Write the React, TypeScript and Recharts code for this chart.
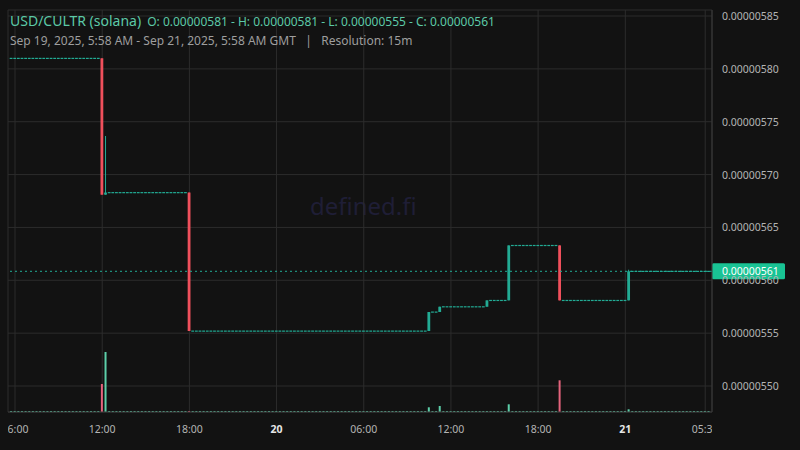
import React from 'react';
import { ComposedChart, Bar, XAxis, YAxis, CartesianGrid, ReferenceLine } from 'recharts';

// times are minutes from Sep 19, 2025 00:00 GMT, 15m candles
const firstCandle = 345; // Sep 19 05:45
const lastCandle = 3225; // Sep 21 05:45
const step = 15;
const startPrice = 0.00000581;

// candles where the price moved, every other candle is flat at the previous close
const moveTimes = [720, 735, 1080, 2070, 2115, 2310, 2400, 2610, 2895];
const moveOpen = [0.00000581, 0.000005681, 0.000005683, 0.000005552, 0.00000557, 0.000005575, 0.000005581, 0.000005633, 0.000005581];
const moveHigh = [0.00000581, 0.0000057365, 0.000005683, 0.00000557, 0.000005575, 0.000005581, 0.000005633, 0.000005633, 0.00000561];
const moveLow = [0.000005681, 0.000005681, 0.000005552, 0.000005552, 0.00000557, 0.000005575, 0.000005581, 0.000005581, 0.000005581];
const moveClose = [0.000005681, 0.000005683, 0.000005552, 0.00000557, 0.000005575, 0.000005581, 0.000005633, 0.000005581, 0.0000056085];

const volumeTimes = [720, 735, 2070, 2115, 2400, 2610, 2895];
const volumeValues = [280, 600, 47, 60, 77, 317, 27];

const priceTicks = [0.0000055, 0.00000555, 0.0000056, 0.00000565, 0.0000057, 0.00000575, 0.0000058, 0.00000585];
const timeTicks = [360, 720, 1080, 1440, 1800, 2160, 2520, 2880, 3210];
const timeLabels = ['06:00', '12:00', '18:00', '20', '06:00', '12:00', '18:00', '21', '05:30'];
const lastPrice = 0.0000056085;

const UP = '#22ab94';
const DOWN = '#f0505c';
const VOL_UP = '#5ccfa9';
const VOL_DOWN = '#e4637c';
const FONT = '"Noto Sans", "Open Sans", sans-serif';

const PLOT_LEFT = 8;
const PLOT_RIGHT = 712;

const data: any[] = [];
let prev = startPrice;
for (let t = firstCandle; t <= lastCandle; t += step) {
  const i = moveTimes.indexOf(t);
  const o = i >= 0 ? moveOpen[i] : prev;
  const h = i >= 0 ? moveHigh[i] : prev;
  const l = i >= 0 ? moveLow[i] : prev;
  const c = i >= 0 ? moveClose[i] : prev;
  prev = c;
  const vi = volumeTimes.indexOf(t);
  data.push({ t, o, h, l, c, range: [l, h], vol: vi >= 0 ? volumeValues[vi] : 0 });
}

const Candle = (props: any) => {
  const { x, y, width, height, payload } = props;
  const cx = x + width / 2;
  const color = payload.c >= payload.o ? UP : DOWN;
  const top = Math.min(y, y + height);
  const h = Math.abs(height);
  const span = payload.h - payload.l;
  if (!span || !h) {
    return <rect x={cx - 1.4} y={top - 0.5} width={2.8} height={1.2} fill={color} />;
  }
  const k = h / span;
  const bodyTop = top + (payload.h - Math.max(payload.o, payload.c)) * k;
  const bodyBot = top + (payload.h - Math.min(payload.o, payload.c)) * k;
  return (
    <g>
      <rect x={cx - 0.5} y={top} width={1} height={h} fill={color} />
      <rect x={cx - 1.4} y={bodyTop} width={2.8} height={Math.max(1.2, bodyBot - bodyTop)} fill={color} />
    </g>
  );
};

const VolumeBar = (props: any) => {
  const { x, y, width, height, payload } = props;
  const cx = x + width / 2;
  const color = payload.c >= payload.o ? VOL_UP : VOL_DOWN;
  const h = Math.max(1, Math.abs(height));
  const bottom = Math.max(y, y + height);
  return <rect x={cx - 1} y={bottom - h} width={2} height={h} fill={color} />;
};

const TimeTick = (props: any) => {
  const { x, y, payload } = props;
  const idx = timeTicks.indexOf(payload.value);
  const label = timeLabels[idx];
  const bold = label.length === 2;
  const id = `tclip${idx}`;
  return (
    <g>
      <defs>
        <clipPath id={id}>
          <rect x={PLOT_LEFT} y={y - 5} width={PLOT_RIGHT - PLOT_LEFT} height={30} />
        </clipPath>
      </defs>
      <text
        x={x}
        y={y + 13}
        textAnchor="middle"
        clipPath={`url(#${id})`}
        fill={bold ? '#e6e6e6' : '#b4b4b4'}
        fontWeight={bold ? 700 : 400}
        fontSize={10.5}
        fontFamily={FONT}
      >
        {label}
      </text>
    </g>
  );
};

const PriceTick = (props: any) => {
  const { x, y, payload } = props;
  return (
    <text x={x} y={y + 4} textAnchor="start" fill="#b4b4b4" fontSize={10.5} fontFamily={FONT}>
      {payload.value.toFixed(8)}
    </text>
  );
};

const LastPriceLabel = (props: any) => {
  const { viewBox } = props;
  const x = viewBox.x + viewBox.width;
  const y = viewBox.y;
  return (
    <g>
      <rect x={x} y={y - 8} width={73} height={16} rx={1.5} fill="#19c394" />
      <text x={x + 10} y={y + 4} fill="#ffffff" fontSize={10.5} fontFamily={FONT}>
        {lastPrice.toFixed(8)}
      </text>
    </g>
  );
};

export default function App() {
  return (
    <div style={{ position: 'fixed', left: 0, top: 0, width: 800, height: 450, background: '#121212', overflow: 'hidden', fontFamily: FONT }}>
      <div style={{ position: 'absolute', left: 310, top: 189, fontSize: 24, color: '#1f1e36' }}>defined.fi</div>
      <div style={{ position: 'absolute', left: 0, top: 0 }}>
        <ComposedChart width={800} height={450} data={data} margin={{ top: 10, right: 0, bottom: 0, left: PLOT_LEFT }}>
          <CartesianGrid xAxisId="t" yAxisId="p" stroke="#2c2c2c" />
          <XAxis
            xAxisId="t"
            type="number"
            dataKey="t"
            domain={[331, 3238]}
            ticks={timeTicks}
            allowDataOverflow
            tickLine={false}
            axisLine={{ stroke: '#3a3a3a' }}
            tick={<TimeTick />}
            height={38}
            interval={0}
          />
          <XAxis xAxisId="v" type="number" dataKey="t" domain={[331, 3238]} allowDataOverflow hide />
          <YAxis
            yAxisId="p"
            orientation="right"
            domain={[0.0000054754, 0.0000058557]}
            ticks={priceTicks}
            allowDataOverflow
            tickLine={false}
            axisLine={{ stroke: '#3a3a3a' }}
            tick={<PriceTick />}
            tickSize={0}
            tickMargin={10}
            width={88}
            interval={0}
          />
          <YAxis yAxisId="v" domain={[0, 4020]} allowDataOverflow hide />
          <Bar xAxisId="v" yAxisId="v" dataKey="vol" barSize={3} shape={<VolumeBar />} isAnimationActive={false} />
          <Bar xAxisId="t" yAxisId="p" dataKey="range" barSize={3} shape={<Candle />} isAnimationActive={false} />
          <ReferenceLine
            xAxisId="t"
            yAxisId="p"
            y={lastPrice}
            stroke={UP}
            strokeDasharray="2 3"
            label={<LastPriceLabel />}
          />
        </ComposedChart>
      </div>
      <div style={{ position: 'absolute', left: 10, top: 9, whiteSpace: 'nowrap', color: '#5cc9a7' }}>
        <span style={{ fontSize: 14 }}>USD/CULTR (solana)</span>
        <span style={{ fontSize: 12, marginLeft: 6 }}>O: 0.00000581 - H: 0.00000581 - L: 0.00000555 - C: 0.00000561</span>
      </div>
      <div style={{ position: 'absolute', left: 10, top: 32, whiteSpace: 'nowrap', color: '#9e9e9e', fontSize: 12 }}>
        Sep 19, 2025, 5:58 AM - Sep 21, 2025, 5:58 AM GMT&nbsp;&nbsp;&nbsp;|&nbsp;&nbsp;&nbsp;Resolution: 15m
      </div>
    </div>
  );
}
